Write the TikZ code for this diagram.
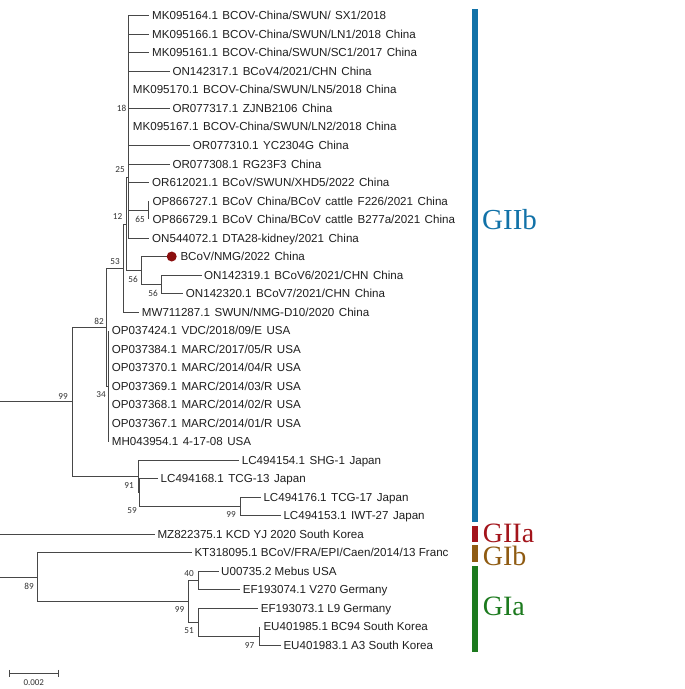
\documentclass[tikz,border=0pt]{standalone}
\usepackage{fontspec}
\setmainfont{Liberation Sans}
\newfontfamily\bsfont{Carlito}
\newfontfamily\cladefont{Liberation Serif}
\newcommand\tipfont{\fontsize{11.6}{13}\selectfont\spaceskip 4.5pt\relax}
\newcommand\tipfontn{\fontsize{11.6}{13}\selectfont}
\definecolor{cgiib}{HTML}{1272A8}
\definecolor{cgiia}{HTML}{A3141B}
\definecolor{cgib}{HTML}{8F5B12}
\definecolor{cgia}{HTML}{1C7A1E}
\definecolor{cdot}{HTML}{8B0F0F}
\begin{document}
\begin{tikzpicture}[x=1pt,y=-1pt,
  br/.style={draw=black!72, line width=0.8pt},
  tip/.style={anchor=base west, inner sep=0pt, font=\tipfont, text=black!88},
  tipn/.style={anchor=base west, inner sep=0pt, font=\tipfontn, text=black!88},
  bs/.style={anchor=east, inner sep=0pt, font=\bsfont\fontsize{9.2}{10}\selectfont, text=black!80},
  clade/.style={anchor=base west, inner sep=0pt, font=\cladefont\fontsize{28}{30}\selectfont}]
\useasboundingbox (0,0) rectangle (685,689);
\fill[white] (0,0) rectangle (685,689);

% internal nodes
\coordinate (nZ) at (128.5,71.25);
\coordinate (n18) at (128.5,117.6);
\coordinate (n25) at (128.5,177.75);
\coordinate (n65) at (148.5,210.15);
\coordinate (n12) at (126.3,224.1);
\coordinate (n56a) at (141.7,270.4);
\coordinate (n56b) at (161.3,284.25);
\coordinate (n53) at (123,268.0);
\coordinate (n34) at (108.3,386.1);
\coordinate (n82) at (106.7,327.05);
\coordinate (n99) at (72.3,401.7);
\coordinate (n91) at (138.3,476.4);
\coordinate (n59) at (139.8,492.6);
\coordinate (n99J) at (240.7,506.45);
\coordinate (n89) at (37.7,577.1);
\coordinate (n99a) at (188.3,601.4);
\coordinate (n40) at (198.3,580.55);
\coordinate (n51) at (198.3,622.2);
\coordinate (n97) at (259.3,636.1);
\coordinate (c1) at (0,401.7);
\coordinate (c2) at (0,534.3);
\coordinate (c3) at (0,577.1);

% branch tips
\coordinate (e1) at (149,15.7);
\coordinate (e2) at (149,34.2);
\coordinate (e3) at (149,52.7);
\coordinate (e4) at (169.5,71.3);
\coordinate (e5) at (128.5,89.8);
\coordinate (e6) at (169.5,108.3);
\coordinate (e7) at (128.5,126.8);
\coordinate (e8) at (190,145.3);
\coordinate (e9) at (169.5,163.9);
\coordinate (e10) at (149,182.4);
\coordinate (e11) at (148.5,200.9);
\coordinate (e12) at (148.5,219.4);
\coordinate (e13) at (149,237.9);
\coordinate (e14) at (166.5,256.5);
\coordinate (e15) at (201.5,275.0);
\coordinate (e16) at (183,293.5);
\coordinate (e17) at (139,312.0);
\coordinate (e18) at (108.3,330.5);
\coordinate (e19) at (108.3,349.1);
\coordinate (e20) at (108.3,367.6);
\coordinate (e21) at (108.3,386.1);
\coordinate (e22) at (108.3,404.6);
\coordinate (e23) at (108.3,423.1);
\coordinate (e24) at (108.3,441.7);
\coordinate (e25) at (239,460.2);
\coordinate (e26) at (158,478.7);
\coordinate (e27) at (261,497.2);
\coordinate (e28) at (280.5,515.7);
\coordinate (e29) at (154.5,534.3);
\coordinate (e30) at (191.5,552.8);
\coordinate (e31) at (218.5,571.3);
\coordinate (e32) at (240,589.8);
\coordinate (e33) at (258,608.3);
\coordinate (e34) at (259.3,626.8);
\coordinate (e35) at (280.5,645.4);

% branches
\foreach \c in {e1,e2,e3,e4,e5,e6,e7} \draw[br] (nZ) |- (\c);
\draw[br] (n18) |- (nZ);
\foreach \c in {e8,e9} \draw[br] (n18) |- (\c);
\foreach \c in {n18,e10,n65,e13} \draw[br] (n25) |- (\c);
\foreach \c in {e11,e12} \draw[br] (n65) |- (\c);
\foreach \c in {n25,n56a} \draw[br] (n12) |- (\c);
\draw[br] (n56a) |- (e14);
\draw[br] (n56a) |- (n56b);
\foreach \c in {e15,e16} \draw[br] (n56b) |- (\c);
\foreach \c in {n12,e17} \draw[br] (n53) |- (\c);
\foreach \c in {n53,n34} \draw[br] (n82) |- (\c);
\foreach \c in {e18,e19,e20,e21,e22,e23,e24} \draw[br] (n34) |- (\c);
\foreach \c in {n82,n91} \draw[br] (n99) |- (\c);
\draw[br] (c1) -- (n99);
\foreach \c in {e25,n59} \draw[br] (n91) |- (\c);
\foreach \c in {e26,n99J} \draw[br] (n59) |- (\c);
\foreach \c in {e27,e28} \draw[br] (n99J) |- (\c);
\draw[br] (c2) -- (e29);
\draw[br] (c3) -- (n89);
\foreach \c in {e30,n99a} \draw[br] (n89) |- (\c);
\foreach \c in {n40,n51} \draw[br] (n99a) |- (\c);
\foreach \c in {e31,e32} \draw[br] (n40) |- (\c);
\foreach \c in {e33,n97} \draw[br] (n51) |- (\c);
\foreach \c in {e34,e35} \draw[br] (n97) |- (\c);

% marker
\fill[cdot] (171.7,256.5) circle (5);

% leaf labels
\node[tip] (t1) at (152,19.8) {MK095164.1 BCOV-China/SWUN/ SX1/2018};
\node[tip] (t2) at (152,38.3) {MK095166.1 BCOV-China/SWUN/LN1/2018 China};
\node[tip] (t3) at (152,56.8) {MK095161.1 BCOV-China/SWUN/SC1/2017 China};
\node[tip] (t4) at (172.3,75.4) {ON142317.1 BCoV4/2021/CHN China};
\node[tip] (t5) at (132.7,93.9) {MK095170.1 BCOV-China/SWUN/LN5/2018 China};
\node[tip] (t6) at (172.3,112.4) {OR077317.1 ZJNB2106 China};
\node[tip] (t7) at (132.7,130.9) {MK095167.1 BCOV-China/SWUN/LN2/2018 China};
\node[tip] (t8) at (192.7,149.4) {OR077310.1 YC2304G China};
\node[tip] (t9) at (172.3,168.0) {OR077308.1 RG23F3 China};
\node[tip] (t10) at (152,186.5) {OR612021.1 BCoV/SWUN/XHD5/2022 China};
\node[tip] (t11) at (152.5,205.0) {OP866727.1 BCoV China/BCoV cattle F226/2021 China};
\node[tip] (t12) at (152.5,223.5) {OP866729.1 BCoV China/BCoV cattle B277a/2021 China};
\node[tip] (t13) at (152,242.0) {ON544072.1 DTA28-kidney/2021 China};
\node[tip] (t14) at (180.3,260.6) {BCoV/NMG/2022 China};
\node[tip] (t15) at (204,279.1) {ON142319.1 BCoV6/2021/CHN China};
\node[tip] (t16) at (185.7,297.6) {ON142320.1 BCoV7/2021/CHN China};
\node[tip] (t17) at (141.7,316.1) {MW711287.1 SWUN/NMG-D10/2020 China};
\node[tip] (t18) at (111.7,334.6) {OP037424.1 VDC/2018/09/E USA};
\node[tip] (t19) at (111.7,353.2) {OP037384.1 MARC/2017/05/R USA};
\node[tip] (t20) at (111.7,371.7) {OP037370.1 MARC/2014/04/R USA};
\node[tip] (t21) at (111.7,390.2) {OP037369.1 MARC/2014/03/R USA};
\node[tip] (t22) at (111.7,408.7) {OP037368.1 MARC/2014/02/R USA};
\node[tip] (t23) at (111.7,427.2) {OP037367.1 MARC/2014/01/R USA};
\node[tip] (t24) at (111.7,445.8) {MH043954.1 4-17-08 USA};
\node[tip] (t25) at (241.7,464.3) {LC494154.1 SHG-1 Japan};
\node[tip] (t26) at (160.5,482.8) {LC494168.1 TCG-13 Japan};
\node[tip] (t27) at (263.3,501.3) {LC494176.1 TCG-17 Japan};
\node[tip] (t28) at (283.3,519.8) {LC494153.1 IWT-27 Japan};
\node[tipn] (t29) at (157.3,538.4) {MZ822375.1 KCD YJ 2020 South Korea};
\node[tipn] (t30) at (194.3,556.9) {KT318095.1 BCoV/FRA/EPI/Caen/2014/13 Franc};
\node[tipn] (t31) at (221,575.4) {U00735.2 Mebus USA};
\node[tipn] (t32) at (242.7,593.9) {EF193074.1 V270 Germany};
\node[tipn] (t33) at (260.7,612.4) {EF193073.1 L9 Germany};
\node[tipn] (t34) at (263.3,630.9) {EU401985.1 BC94 South Korea};
\node[tipn] (t35) at (283.3,649.5) {EU401983.1 A3 South Korea};

% bootstrap values
\node[bs] (b18) at (126.5,108) {18};
\node[bs] (b25) at (125,170) {25};
\node[bs] (b12) at (122.5,217) {12};
\node[bs] (b65) at (145,219) {65};
\node[bs] (b53) at (120,262) {53};
\node[bs] (b56a) at (138,279) {56};
\node[bs] (b56b) at (158,293) {56};
\node[bs] (b82) at (104,321.7) {82};
\node[bs] (b34) at (106,395) {34};
\node[bs] (b99) at (68,396.7) {99};
\node[bs] (b91) at (134,485.7) {91};
\node[bs] (b59) at (137,510.7) {59};
\node[bs] (b99J) at (236,515) {99};
\node[bs] (b89) at (34,586) {89};
\node[bs] (b40) at (194,574) {40};
\node[bs] (b99a) at (184.5,610) {99};
\node[bs] (b51) at (194,631) {51};
\node[bs] (b97) at (254.5,646) {97};

% scale bar
\coordinate (sb1) at (9.3,673.3);
\coordinate (sb2) at (58.3,673.3);
\draw[br, line width=0.7pt] (sb1) -- (sb2);
\draw[br, line width=0.7pt] ([yshift=3.5pt]sb1) -- ([yshift=-3.5pt]sb1);
\draw[br, line width=0.7pt] ([yshift=3.5pt]sb2) -- ([yshift=-3.5pt]sb2);
\node[inner sep=0pt, font=\bsfont\fontsize{9}{10}\selectfont, text=black!80] (sbl) at (33.8,682.5) {0.002};

% clade bars
\fill[cgiib] (471.5,9.3) rectangle (477.5,521.7);
\fill[cgiia] (471.5,526) rectangle (477.5,541.7);
\fill[cgib] (471.5,545) rectangle (477.5,561.7);
\fill[cgia] (471.5,566) rectangle (477.5,651.7);
\node[clade, text=cgiib, font=\cladefont\fontsize{29}{30}\selectfont] (lGIIb) at (482,229.3) {GIIb};
\node[clade, text=cgiia] (lGIIa) at (482.7,542.8) {GIIa};
\node[clade, text=cgib] (lGIb) at (482.7,565.4) {GIb};
\node[clade, text=cgia] (lGIa) at (482.7,615) {GIa};
\end{tikzpicture}
\end{document}
